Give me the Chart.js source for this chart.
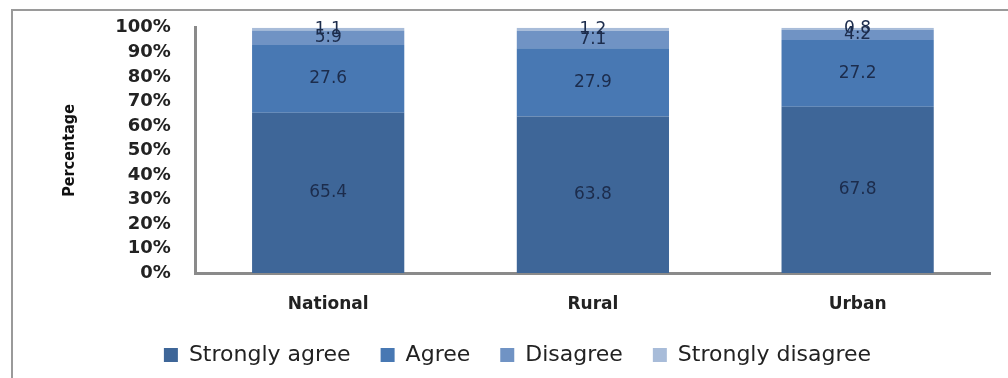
<!DOCTYPE html>
<html>
<head>
<meta charset="utf-8">
<script src="https://cdn.jsdelivr.net/npm/chart.js@4.4.1/dist/chart.umd.min.js"></script>
<style>
  html, body { margin: 0; padding: 0; background: #fff; }
  #wrap { position: relative; width: 1008px; height: 378px; }
  #frame { position: absolute; left: 11px; top: 9px; width: 1010px; height: 380px;
           border-left: 2px solid #9a9a9a; border-top: 2px solid #9a9a9a; }
  canvas { position: absolute; left: 0; top: 0; }
</style>
</head>
<body>
<div id="wrap">
  <div id="frame"></div>
  <canvas id="surveyChart" width="1008" height="378"></canvas>
</div>
<script>
const categories = ['National', 'Rural', 'Urban'];

const stronglyAgree = [65.4, 63.8, 67.8];
const agree = [27.6, 27.9, 27.2];
const disagree = [5.9, 7.1, 4.2];
const stronglyDisagree = [1.1, 1.2, 0.8];

const yTicks = [0, 10, 20, 30, 40, 50, 60, 70, 80, 90, 100];

// values written in the middle of each segment
const segmentLabels = {
    id: 'segmentLabels',
    afterDatasetsDraw(chart) {
        const ctx = chart.ctx;
        ctx.save();
        ctx.font = '17px "DejaVu Sans"';
        ctx.fillStyle = '#1c2c4c';
        ctx.textAlign = 'center';
        ctx.textBaseline = 'middle';
        chart.data.datasets.forEach((ds, i) => {
            chart.getDatasetMeta(i).data.forEach((bar, j) => {
                const mid = (bar.y + bar.base) / 2;
                ctx.fillText(ds.data[j].toFixed(1), bar.x, mid);
            });
        });
        ctx.restore();
    }
};

const ctx = document.getElementById('surveyChart').getContext('2d');
const surveyChart = new Chart(ctx, {
    type: 'bar',
    data: {
        labels: categories,
        datasets: [
            { label: 'Strongly agree', data: stronglyAgree, backgroundColor: '#3e6698' },
            { label: 'Agree', data: agree, backgroundColor: '#4878b3' },
            { label: 'Disagree', data: disagree, backgroundColor: '#7093c4' },
            { label: 'Strongly disagree', data: stronglyDisagree, backgroundColor: '#a8bcd9' }
        ]
    },
    options: {
        responsive: false,
        animation: false,
        layout: { padding: { left: 45, right: 18, top: 18, bottom: 2 } },
        datasets: { bar: { barPercentage: 0.575, categoryPercentage: 1 } },
        scales: {
            x: {
                stacked: true,
                grid: { display: false },
                border: { display: true, color: '#8a8a8a', width: 3 },
                afterFit(axis) { axis.height = 41; },
                ticks: {
                    padding: 13,
                    color: '#222',
                    font: { family: 'DejaVu Sans', size: 17, weight: 'bold' }
                }
            },
            y: {
                stacked: true,
                min: 0,
                max: 100,
                grid: { display: false },
                border: { display: true, color: '#8a8a8a', width: 3 },
                afterBuildTicks(axis) {
                    axis.ticks = yTicks.map(v => ({ value: v }));
                },
                ticks: {
                    autoSkip: false,
                    padding: 17,
                    color: '#222',
                    font: { family: 'DejaVu Sans', size: 18, weight: 'bold' },
                    callback: v => v + '%'
                },
                title: {
                    display: true,
                    text: 'Percentage',
                    color: '#111',
                    padding: { top: 15, bottom: 19 },
                    font: { family: '"DejaVu Sans Condensed", "Liberation Sans"', size: 16, weight: 'bold' }
                }
            }
        },
        plugins: {
            legend: {
                position: 'bottom',
                labels: {
                    boxWidth: 14,
                    boxHeight: 14,
                    padding: 30,
                    color: '#222',
                    font: { family: 'DejaVu Sans', size: 22 }
                }
            },
            tooltip: { enabled: false }
        }
    },
    plugins: [segmentLabels]
});
</script>
</body>
</html>
